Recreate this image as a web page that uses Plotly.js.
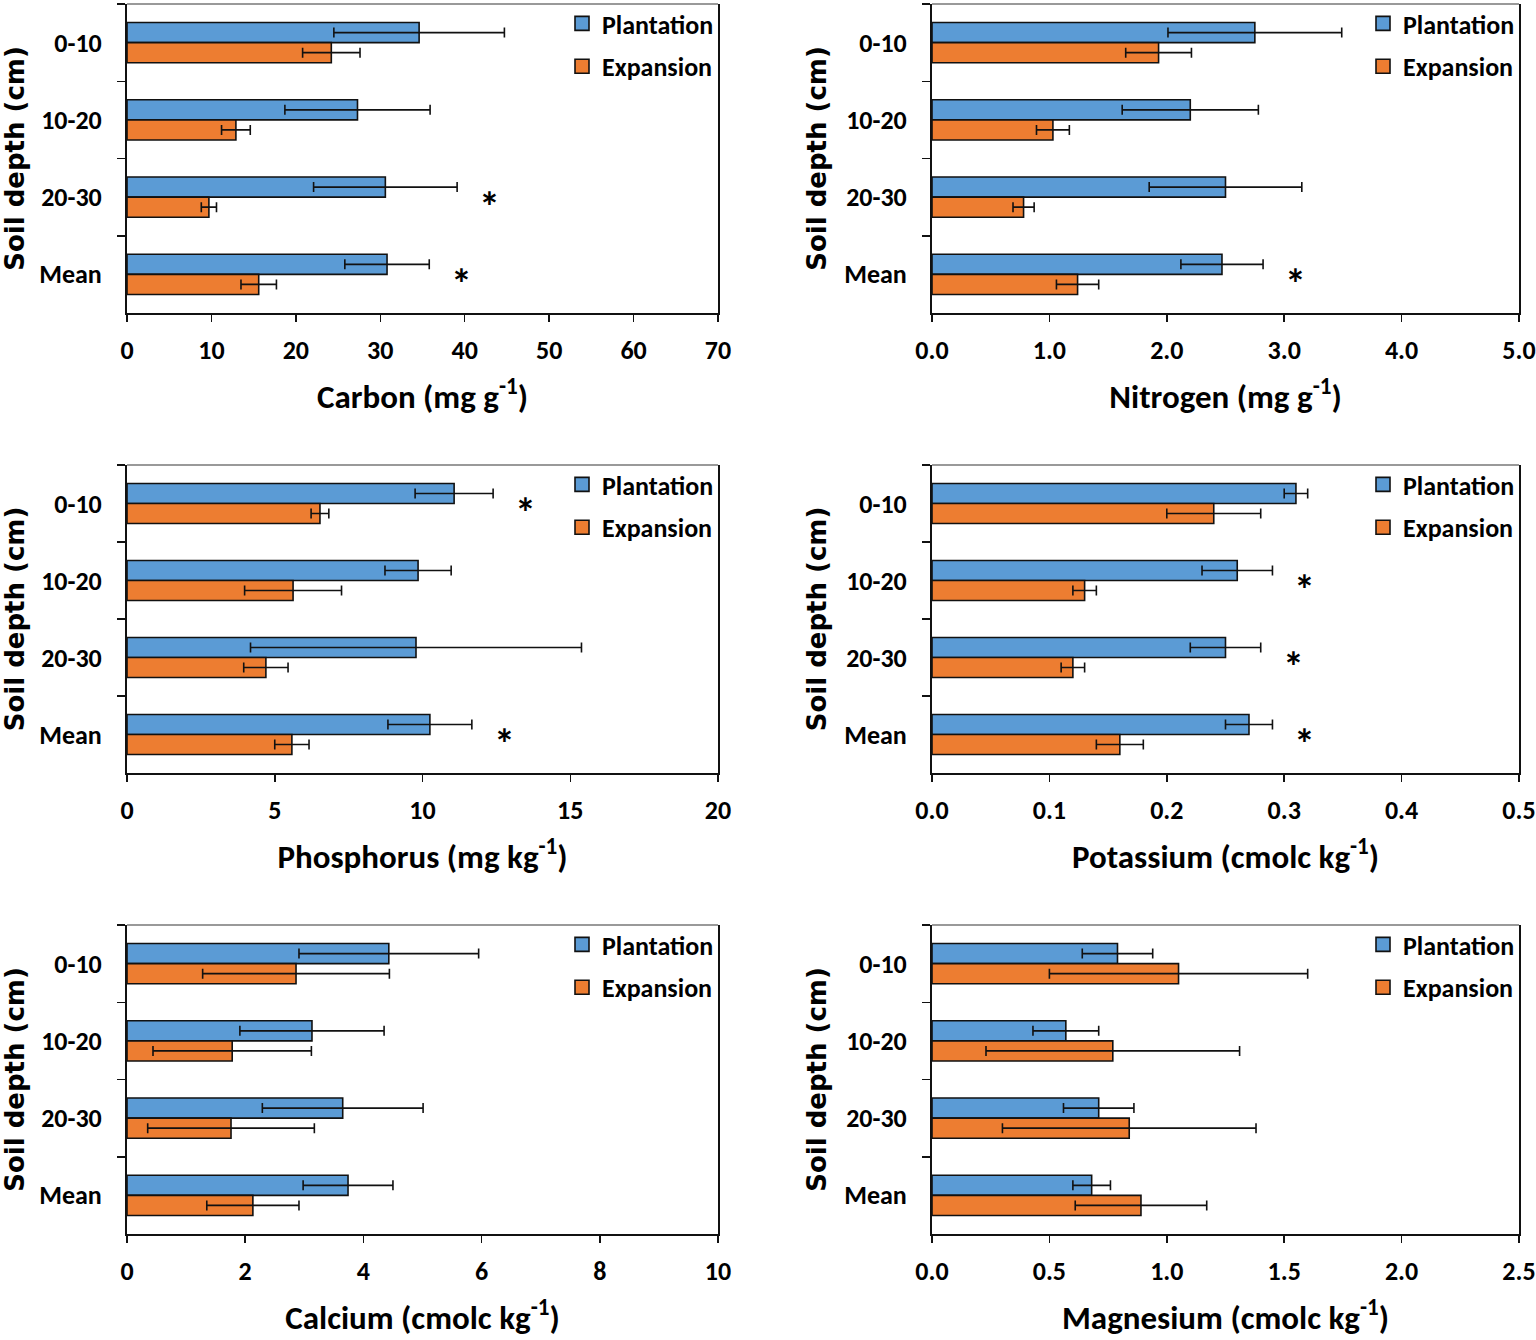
<!DOCTYPE html>
<html>
<head>
<meta charset="utf-8">
<script src="https://cdn.plot.ly/plotly-3.0.1.min.js"></script>
<style>html,body{margin:0;padding:0;background:#fff;}#chart{width:1536px;height:1340px;}</style>
</head>
<body>
<div id="chart"></div>
<script>
// ---------- data ----------
const depths = ['0-10', '10-20', '20-30', 'Mean'];
const seriesNames = ['Plantation', 'Expansion'];

const carbonPlant = [34.6, 27.3, 30.6, 30.8];
const carbonPlantErr = [10.1, 8.6, 8.5, 5.0];
const carbonExp = [24.2, 12.9, 9.7, 15.6];
const carbonExpErr = [3.4, 1.7, 0.9, 2.1];
const carbonSig = ['', '', '*', '*'];

const nitrogenPlant = [2.75, 2.20, 2.50, 2.47];
const nitrogenPlantErr = [0.74, 0.58, 0.65, 0.35];
const nitrogenExp = [1.93, 1.03, 0.78, 1.24];
const nitrogenExpErr = [0.28, 0.14, 0.09, 0.18];
const nitrogenSig = ['', '', '', '*'];

const phosphorusPlant = [11.07, 9.85, 9.78, 10.25];
const phosphorusPlantErr = [1.32, 1.12, 5.6, 1.42];
const phosphorusExp = [6.53, 5.62, 4.70, 5.58];
const phosphorusExpErr = [0.3, 1.64, 0.75, 0.58];
const phosphorusSig = ['*', '', '', '*'];

const potassiumPlant = [0.31, 0.26, 0.25, 0.27];
const potassiumPlantErr = [0.01, 0.03, 0.03, 0.02];
const potassiumExp = [0.24, 0.13, 0.12, 0.16];
const potassiumExpErr = [0.04, 0.01, 0.01, 0.02];
const potassiumSig = ['', '*', '*', '*'];

const calciumPlant = [4.43, 3.13, 3.65, 3.74];
const calciumPlantErr = [1.52, 1.22, 1.36, 0.76];
const calciumExp = [2.86, 1.78, 1.76, 2.13];
const calciumExpErr = [1.58, 1.34, 1.41, 0.78];
const calciumSig = ['', '', '', ''];

const magnesiumPlant = [0.79, 0.57, 0.71, 0.68];
const magnesiumPlantErr = [0.15, 0.14, 0.15, 0.08];
const magnesiumExp = [1.05, 0.77, 0.84, 0.89];
const magnesiumExpErr = [0.55, 0.54, 0.54, 0.28];
const magnesiumSig = ['', '', '', ''];

// ---------- panel configuration ----------
const panels = [
  {title: 'Carbon (mg g<sup>-1</sup>)', plant: carbonPlant, plantErr: carbonPlantErr, exp: carbonExp, expErr: carbonExpErr, sig: carbonSig, max: 70, dtick: 10, fmt: 'd'},
  {title: 'Nitrogen (mg g<sup>-1</sup>)', plant: nitrogenPlant, plantErr: nitrogenPlantErr, exp: nitrogenExp, expErr: nitrogenExpErr, sig: nitrogenSig, max: 5, dtick: 1, fmt: '.1f'},
  {title: 'Phosphorus (mg kg<sup>-1</sup>)', plant: phosphorusPlant, plantErr: phosphorusPlantErr, exp: phosphorusExp, expErr: phosphorusExpErr, sig: phosphorusSig, max: 20, dtick: 5, fmt: 'd'},
  {title: 'Potassium (cmolc kg<sup>-1</sup>)', plant: potassiumPlant, plantErr: potassiumPlantErr, exp: potassiumExp, expErr: potassiumExpErr, sig: potassiumSig, max: 0.5, dtick: 0.1, fmt: '.1f'},
  {title: 'Calcium (cmolc kg<sup>-1</sup>)', plant: calciumPlant, plantErr: calciumPlantErr, exp: calciumExp, expErr: calciumExpErr, sig: calciumSig, max: 10, dtick: 2, fmt: 'd'},
  {title: 'Magnesium (cmolc kg<sup>-1</sup>)', plant: magnesiumPlant, plantErr: magnesiumPlantErr, exp: magnesiumExp, expErr: magnesiumExpErr, sig: magnesiumSig, max: 2.5, dtick: 0.5, fmt: '.1f'}
];

// ---------- layout geometry ----------
const W = 1536, H = 1340;
const colPx = [[127, 718], [932, 1519]];
const rowPx = [[4, 313], [465, 773], [925, 1234]];
const fx = p => p / W;
const fy = p => 1 - p / H;

const FONT = "Carlito, Calibri, 'Liberation Sans Narrow', 'Open Sans', sans-serif";
const blue = '#5B9BD5', orange = '#ED7D31';

const traces = [];
const layout = {
  width: W, height: H,
  margin: {l: 0, r: 0, t: 0, b: 0},
  paper_bgcolor: '#fff', plot_bgcolor: '#fff',
  barmode: 'group', bargap: 0.48, bargroupgap: 0,
  font: {family: FONT, color: '#000', size: 24},
  showlegend: true,
  annotations: [], shapes: []
};

panels.forEach((p, i) => {
  const n = i + 1;
  const col = i % 2, row = Math.floor(i / 2);
  const xa = 'x' + (n === 1 ? '' : n), ya = 'y' + (n === 1 ? '' : n);
  const xk = 'xaxis' + (n === 1 ? '' : n), yk = 'yaxis' + (n === 1 ? '' : n);
  const lg = 'legend' + (n === 1 ? '' : n);
  const xd = [fx(colPx[col][0]), fx(colPx[col][1])];
  const yd = [fy(rowPx[row][1]), fy(rowPx[row][0])];

  [[p.plant, p.plantErr, blue, seriesNames[0]], [p.exp, p.expErr, orange, seriesNames[1]]].forEach((s, k) => {
    traces.push({
      type: 'bar', orientation: 'h',
      x: s[0], y: depths, name: s[3],
      xaxis: xa, yaxis: ya, legend: lg, legendgroup: 'g' + n + k,
      marker: {color: s[2], line: {color: '#111', width: 1.6}},
      error_x: {type: 'data', array: s[1], visible: true, color: '#111', thickness: 1.6, width: 5},
      hoverinfo: 'x+y+name'
    });
  });

  layout[xk] = {
    domain: xd, anchor: ya, range: [0, p.max], dtick: p.dtick, tick0: 0, tickformat: p.fmt,
    showgrid: false, zeroline: false, showline: true, linecolor: '#111', linewidth: 2,
    ticks: 'outside', ticklen: 7, tickwidth: 1.5, tickcolor: '#111',
    ticklabelstandoff: 6,
    tickfont: {family: FONT, size: 26, weight: 'bold', color: '#000'},
    title: {text: p.title, font: {family: FONT, size: 33, weight: 'bold', color: '#000'}, standoff: 20},
    fixedrange: true
  };
  layout[yk] = {
    domain: yd, anchor: xa, type: 'category', categoryarray: depths, categoryorder: 'array',
    autorange: 'reversed',
    showgrid: false, zeroline: false, showline: true, linecolor: '#111', linewidth: 2, mirror: true,
    ticks: 'outside', tickson: 'boundaries', ticklen: 8, tickwidth: 1.5, tickcolor: '#111',
    ticklabelstandoff: 18,
    tickfont: {family: FONT, size: 26, weight: 'bold', color: '#000'},
    title: {text: 'Soil depth (cm)', font: {family: "'DejaVu Sans', sans-serif", size: 26, weight: 'bold', color: '#000'}, standoff: 10},
    fixedrange: true
  };
  // grey top border of the plot frame
  layout.shapes.push({type: 'line', xref: xa + ' domain', yref: ya + ' domain', x0: 0, x1: 1, y0: 1, y1: 1, line: {color: '#999', width: 2}});

  layout[lg] = {
    xref: 'paper', yref: 'paper', x: xd[1] + fx(1), y: yd[1] + fx(4) * W / H, xanchor: 'right', yanchor: 'top',
    bgcolor: 'rgba(0,0,0,0)', borderwidth: 0,
    font: {family: FONT, size: 26, weight: 'bold', color: '#000'},
    traceorder: 'grouped', tracegroupgap: 6, itemwidth: 30
  };

  // significance asterisks
  p.sig.forEach((s, j) => {
    if (!s) return;
    const top = Math.max(p.plant[j] + p.plantErr[j], p.exp[j] + p.expErr[j]);
    layout.annotations.push({
      xref: xa, yref: ya, x: top + 0.055 * p.max, y: depths[j], text: s, showarrow: false,
      font: {family: FONT, size: 42, weight: 'bold', color: '#000'}, yshift: -10
    });
  });
});

function enlargeSwatches() {
  document.querySelectorAll('g.legendpoints path').forEach(el => {
    el.setAttribute('d', 'M7,7H-7V-7H7Z');
  });
}

Plotly.newPlot('chart', traces, layout, {displayModeBar: false, staticPlot: true}).then(enlargeSwatches);
enlargeSwatches();
</script>
</body>
</html>
